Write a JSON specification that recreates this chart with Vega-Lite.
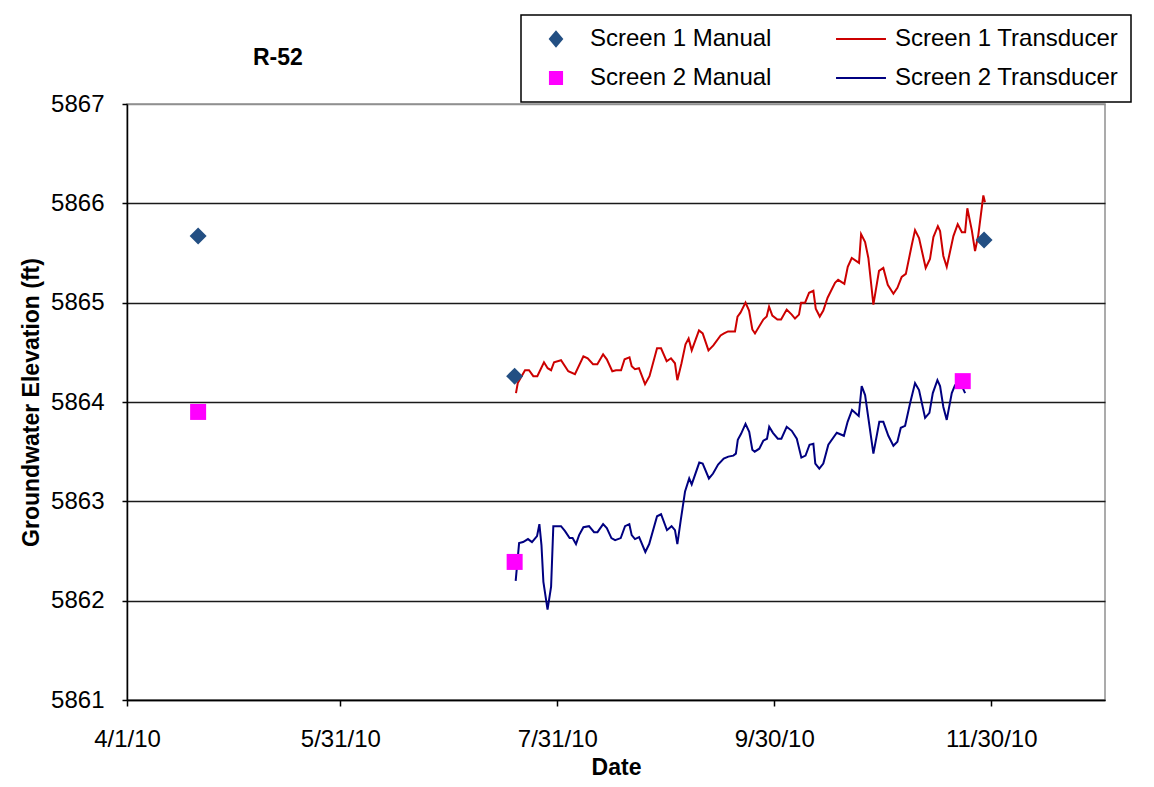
{
  "$schema": "https://vega.github.io/schema/vega-lite/v6.json",
  "width": 978,
  "height": 596,
  "autosize": {"type": "none"},
  "padding": {"left": 127, "top": 104, "right": 49, "bottom": 87},
  "background": "white",
  "config": {
    "font": "Liberation Sans",
    "view": {"stroke": "#909090", "strokeWidth": 1.5}
  },
  "title": {"text": "R-52", "anchor": "start", "frame": "group", "dx": 126, "dy": 56, "fontSize": 23, "fontWeight": "bold", "offset": 0, "color": "#000", "font": "Liberation Sans"},
  "datasets": {
    "lines": [
      {"date": "2010-07-19T09:00", "value": 5864.09, "series": "Screen 1 Transducer"},
      {"date": "2010-07-19T21:00", "value": 5864.19, "series": "Screen 1 Transducer"},
      {"date": "2010-07-21T22:00", "value": 5864.32, "series": "Screen 1 Transducer"},
      {"date": "2010-07-23T01:00", "value": 5864.32, "series": "Screen 1 Transducer"},
      {"date": "2010-07-24T06:00", "value": 5864.26, "series": "Screen 1 Transducer"},
      {"date": "2010-07-25T09:00", "value": 5864.26, "series": "Screen 1 Transducer"},
      {"date": "2010-07-27T06:00", "value": 5864.40, "series": "Screen 1 Transducer"},
      {"date": "2010-07-28T07:00", "value": 5864.34, "series": "Screen 1 Transducer"},
      {"date": "2010-07-29T06:00", "value": 5864.32, "series": "Screen 1 Transducer"},
      {"date": "2010-07-30T02:00", "value": 5864.40, "series": "Screen 1 Transducer"},
      {"date": "2010-08-01T01:00", "value": 5864.42, "series": "Screen 1 Transducer"},
      {"date": "2010-08-03T02:00", "value": 5864.31, "series": "Screen 1 Transducer"},
      {"date": "2010-08-04T23:00", "value": 5864.28, "series": "Screen 1 Transducer"},
      {"date": "2010-08-07T08:00", "value": 5864.46, "series": "Screen 1 Transducer"},
      {"date": "2010-08-08T13:00", "value": 5864.44, "series": "Screen 1 Transducer"},
      {"date": "2010-08-10T01:00", "value": 5864.38, "series": "Screen 1 Transducer"},
      {"date": "2010-08-11T06:00", "value": 5864.38, "series": "Screen 1 Transducer"},
      {"date": "2010-08-12T21:00", "value": 5864.48, "series": "Screen 1 Transducer"},
      {"date": "2010-08-13T22:00", "value": 5864.43, "series": "Screen 1 Transducer"},
      {"date": "2010-08-15T11:00", "value": 5864.31, "series": "Screen 1 Transducer"},
      {"date": "2010-08-16T12:00", "value": 5864.32, "series": "Screen 1 Transducer"},
      {"date": "2010-08-17T22:00", "value": 5864.32, "series": "Screen 1 Transducer"},
      {"date": "2010-08-18T22:00", "value": 5864.43, "series": "Screen 1 Transducer"},
      {"date": "2010-08-20T07:00", "value": 5864.45, "series": "Screen 1 Transducer"},
      {"date": "2010-08-20T22:00", "value": 5864.36, "series": "Screen 1 Transducer"},
      {"date": "2010-08-21T20:00", "value": 5864.33, "series": "Screen 1 Transducer"},
      {"date": "2010-08-22T23:00", "value": 5864.34, "series": "Screen 1 Transducer"},
      {"date": "2010-08-24T16:00", "value": 5864.18, "series": "Screen 1 Transducer"},
      {"date": "2010-08-25T22:00", "value": 5864.26, "series": "Screen 1 Transducer"},
      {"date": "2010-08-28T01:00", "value": 5864.54, "series": "Screen 1 Transducer"},
      {"date": "2010-08-29T04:00", "value": 5864.54, "series": "Screen 1 Transducer"},
      {"date": "2010-08-30T18:00", "value": 5864.41, "series": "Screen 1 Transducer"},
      {"date": "2010-08-31T23:00", "value": 5864.44, "series": "Screen 1 Transducer"},
      {"date": "2010-09-02T02:00", "value": 5864.39, "series": "Screen 1 Transducer"},
      {"date": "2010-09-02T18:00", "value": 5864.22, "series": "Screen 1 Transducer"},
      {"date": "2010-09-03T22:00", "value": 5864.39, "series": "Screen 1 Transducer"},
      {"date": "2010-09-05T01:00", "value": 5864.58, "series": "Screen 1 Transducer"},
      {"date": "2010-09-05T22:00", "value": 5864.64, "series": "Screen 1 Transducer"},
      {"date": "2010-09-06T19:00", "value": 5864.52, "series": "Screen 1 Transducer"},
      {"date": "2010-09-08T20:00", "value": 5864.72, "series": "Screen 1 Transducer"},
      {"date": "2010-09-09T21:00", "value": 5864.69, "series": "Screen 1 Transducer"},
      {"date": "2010-09-11T12:00", "value": 5864.52, "series": "Screen 1 Transducer"},
      {"date": "2010-09-12T21:00", "value": 5864.57, "series": "Screen 1 Transducer"},
      {"date": "2010-09-14T22:00", "value": 5864.67, "series": "Screen 1 Transducer"},
      {"date": "2010-09-15T21:00", "value": 5864.69, "series": "Screen 1 Transducer"},
      {"date": "2010-09-17T00:00", "value": 5864.71, "series": "Screen 1 Transducer"},
      {"date": "2010-09-18T23:00", "value": 5864.71, "series": "Screen 1 Transducer"},
      {"date": "2010-09-19T16:00", "value": 5864.86, "series": "Screen 1 Transducer"},
      {"date": "2010-09-20T12:00", "value": 5864.90, "series": "Screen 1 Transducer"},
      {"date": "2010-09-21T22:00", "value": 5865.00, "series": "Screen 1 Transducer"},
      {"date": "2010-09-22T22:00", "value": 5864.92, "series": "Screen 1 Transducer"},
      {"date": "2010-09-23T20:00", "value": 5864.73, "series": "Screen 1 Transducer"},
      {"date": "2010-09-24T14:00", "value": 5864.69, "series": "Screen 1 Transducer"},
      {"date": "2010-09-26T22:00", "value": 5864.83, "series": "Screen 1 Transducer"},
      {"date": "2010-09-27T21:00", "value": 5864.86, "series": "Screen 1 Transducer"},
      {"date": "2010-09-28T13:00", "value": 5864.96, "series": "Screen 1 Transducer"},
      {"date": "2010-09-29T11:00", "value": 5864.87, "series": "Screen 1 Transducer"},
      {"date": "2010-09-30T21:00", "value": 5864.83, "series": "Screen 1 Transducer"},
      {"date": "2010-10-01T22:00", "value": 5864.83, "series": "Screen 1 Transducer"},
      {"date": "2010-10-03T12:00", "value": 5864.93, "series": "Screen 1 Transducer"},
      {"date": "2010-10-04T22:00", "value": 5864.88, "series": "Screen 1 Transducer"},
      {"date": "2010-10-05T20:00", "value": 5864.84, "series": "Screen 1 Transducer"},
      {"date": "2010-10-06T23:00", "value": 5864.88, "series": "Screen 1 Transducer"},
      {"date": "2010-10-07T13:00", "value": 5865.00, "series": "Screen 1 Transducer"},
      {"date": "2010-10-08T16:00", "value": 5865.00, "series": "Screen 1 Transducer"},
      {"date": "2010-10-09T19:00", "value": 5865.10, "series": "Screen 1 Transducer"},
      {"date": "2010-10-11T00:00", "value": 5865.12, "series": "Screen 1 Transducer"},
      {"date": "2010-10-11T16:00", "value": 5864.94, "series": "Screen 1 Transducer"},
      {"date": "2010-10-12T19:00", "value": 5864.86, "series": "Screen 1 Transducer"},
      {"date": "2010-10-13T19:00", "value": 5864.92, "series": "Screen 1 Transducer"},
      {"date": "2010-10-15T00:00", "value": 5865.05, "series": "Screen 1 Transducer"},
      {"date": "2010-10-17T02:00", "value": 5865.20, "series": "Screen 1 Transducer"},
      {"date": "2010-10-17T23:00", "value": 5865.23, "series": "Screen 1 Transducer"},
      {"date": "2010-10-19T17:00", "value": 5865.19, "series": "Screen 1 Transducer"},
      {"date": "2010-10-20T16:00", "value": 5865.36, "series": "Screen 1 Transducer"},
      {"date": "2010-10-21T19:00", "value": 5865.45, "series": "Screen 1 Transducer"},
      {"date": "2010-10-23T20:00", "value": 5865.40, "series": "Screen 1 Transducer"},
      {"date": "2010-10-24T10:00", "value": 5865.69, "series": "Screen 1 Transducer"},
      {"date": "2010-10-25T13:00", "value": 5865.61, "series": "Screen 1 Transducer"},
      {"date": "2010-10-26T11:00", "value": 5865.45, "series": "Screen 1 Transducer"},
      {"date": "2010-10-27T21:00", "value": 5864.98, "series": "Screen 1 Transducer"},
      {"date": "2010-10-29T11:00", "value": 5865.32, "series": "Screen 1 Transducer"},
      {"date": "2010-10-30T16:00", "value": 5865.35, "series": "Screen 1 Transducer"},
      {"date": "2010-10-31T22:00", "value": 5865.18, "series": "Screen 1 Transducer"},
      {"date": "2010-11-02T12:00", "value": 5865.09, "series": "Screen 1 Transducer"},
      {"date": "2010-11-03T15:00", "value": 5865.15, "series": "Screen 1 Transducer"},
      {"date": "2010-11-04T20:00", "value": 5865.26, "series": "Screen 1 Transducer"},
      {"date": "2010-11-06T00:00", "value": 5865.29, "series": "Screen 1 Transducer"},
      {"date": "2010-11-07T16:00", "value": 5865.58, "series": "Screen 1 Transducer"},
      {"date": "2010-11-08T14:00", "value": 5865.73, "series": "Screen 1 Transducer"},
      {"date": "2010-11-09T17:00", "value": 5865.65, "series": "Screen 1 Transducer"},
      {"date": "2010-11-11T14:00", "value": 5865.35, "series": "Screen 1 Transducer"},
      {"date": "2010-11-12T19:00", "value": 5865.44, "series": "Screen 1 Transducer"},
      {"date": "2010-11-13T18:00", "value": 5865.66, "series": "Screen 1 Transducer"},
      {"date": "2010-11-15T00:00", "value": 5865.77, "series": "Screen 1 Transducer"},
      {"date": "2010-11-15T15:00", "value": 5865.72, "series": "Screen 1 Transducer"},
      {"date": "2010-11-16T13:00", "value": 5865.47, "series": "Screen 1 Transducer"},
      {"date": "2010-11-17T12:00", "value": 5865.36, "series": "Screen 1 Transducer"},
      {"date": "2010-11-19T09:00", "value": 5865.67, "series": "Screen 1 Transducer"},
      {"date": "2010-11-20T14:00", "value": 5865.79, "series": "Screen 1 Transducer"},
      {"date": "2010-11-21T18:00", "value": 5865.71, "series": "Screen 1 Transducer"},
      {"date": "2010-11-22T16:00", "value": 5865.71, "series": "Screen 1 Transducer"},
      {"date": "2010-11-23T07:00", "value": 5865.95, "series": "Screen 1 Transducer"},
      {"date": "2010-11-24T13:00", "value": 5865.73, "series": "Screen 1 Transducer"},
      {"date": "2010-11-25T11:00", "value": 5865.52, "series": "Screen 1 Transducer"},
      {"date": "2010-11-26T09:00", "value": 5865.68, "series": "Screen 1 Transducer"},
      {"date": "2010-11-27T19:00", "value": 5866.08, "series": "Screen 1 Transducer"},
      {"date": "2010-11-28T06:00", "value": 5866.01, "series": "Screen 1 Transducer"},
      {"date": "2010-07-19T07:00", "value": 5862.20, "series": "Screen 2 Transducer"},
      {"date": "2010-07-20T06:00", "value": 5862.58, "series": "Screen 2 Transducer"},
      {"date": "2010-07-21T09:00", "value": 5862.59, "series": "Screen 2 Transducer"},
      {"date": "2010-07-22T18:00", "value": 5862.62, "series": "Screen 2 Transducer"},
      {"date": "2010-07-23T21:00", "value": 5862.59, "series": "Screen 2 Transducer"},
      {"date": "2010-07-25T07:00", "value": 5862.65, "series": "Screen 2 Transducer"},
      {"date": "2010-07-25T23:00", "value": 5862.77, "series": "Screen 2 Transducer"},
      {"date": "2010-07-26T13:00", "value": 5862.56, "series": "Screen 2 Transducer"},
      {"date": "2010-07-27T02:00", "value": 5862.19, "series": "Screen 2 Transducer"},
      {"date": "2010-07-28T06:00", "value": 5861.91, "series": "Screen 2 Transducer"},
      {"date": "2010-07-29T06:00", "value": 5862.14, "series": "Screen 2 Transducer"},
      {"date": "2010-07-29T21:00", "value": 5862.75, "series": "Screen 2 Transducer"},
      {"date": "2010-08-01T01:00", "value": 5862.75, "series": "Screen 2 Transducer"},
      {"date": "2010-08-02T04:00", "value": 5862.70, "series": "Screen 2 Transducer"},
      {"date": "2010-08-03T11:00", "value": 5862.63, "series": "Screen 2 Transducer"},
      {"date": "2010-08-04T07:00", "value": 5862.63, "series": "Screen 2 Transducer"},
      {"date": "2010-08-05T06:00", "value": 5862.57, "series": "Screen 2 Transducer"},
      {"date": "2010-08-06T03:00", "value": 5862.66, "series": "Screen 2 Transducer"},
      {"date": "2010-08-07T08:00", "value": 5862.74, "series": "Screen 2 Transducer"},
      {"date": "2010-08-08T22:00", "value": 5862.75, "series": "Screen 2 Transducer"},
      {"date": "2010-08-10T08:00", "value": 5862.69, "series": "Screen 2 Transducer"},
      {"date": "2010-08-11T07:00", "value": 5862.69, "series": "Screen 2 Transducer"},
      {"date": "2010-08-12T21:00", "value": 5862.77, "series": "Screen 2 Transducer"},
      {"date": "2010-08-13T22:00", "value": 5862.73, "series": "Screen 2 Transducer"},
      {"date": "2010-08-15T05:00", "value": 5862.63, "series": "Screen 2 Transducer"},
      {"date": "2010-08-16T06:00", "value": 5862.61, "series": "Screen 2 Transducer"},
      {"date": "2010-08-17T20:00", "value": 5862.63, "series": "Screen 2 Transducer"},
      {"date": "2010-08-19T01:00", "value": 5862.75, "series": "Screen 2 Transducer"},
      {"date": "2010-08-20T06:00", "value": 5862.77, "series": "Screen 2 Transducer"},
      {"date": "2010-08-20T22:00", "value": 5862.66, "series": "Screen 2 Transducer"},
      {"date": "2010-08-21T20:00", "value": 5862.62, "series": "Screen 2 Transducer"},
      {"date": "2010-08-23T00:00", "value": 5862.64, "series": "Screen 2 Transducer"},
      {"date": "2010-08-24T18:00", "value": 5862.49, "series": "Screen 2 Transducer"},
      {"date": "2010-08-25T20:00", "value": 5862.57, "series": "Screen 2 Transducer"},
      {"date": "2010-08-28T01:00", "value": 5862.85, "series": "Screen 2 Transducer"},
      {"date": "2010-08-29T04:00", "value": 5862.87, "series": "Screen 2 Transducer"},
      {"date": "2010-08-30T20:00", "value": 5862.71, "series": "Screen 2 Transducer"},
      {"date": "2010-09-01T03:00", "value": 5862.75, "series": "Screen 2 Transducer"},
      {"date": "2010-09-02T02:00", "value": 5862.71, "series": "Screen 2 Transducer"},
      {"date": "2010-09-02T18:00", "value": 5862.57, "series": "Screen 2 Transducer"},
      {"date": "2010-09-03T17:00", "value": 5862.81, "series": "Screen 2 Transducer"},
      {"date": "2010-09-04T22:00", "value": 5863.10, "series": "Screen 2 Transducer"},
      {"date": "2010-09-06T02:00", "value": 5863.23, "series": "Screen 2 Transducer"},
      {"date": "2010-09-06T19:00", "value": 5863.17, "series": "Screen 2 Transducer"},
      {"date": "2010-09-08T22:00", "value": 5863.39, "series": "Screen 2 Transducer"},
      {"date": "2010-09-09T21:00", "value": 5863.38, "series": "Screen 2 Transducer"},
      {"date": "2010-09-11T15:00", "value": 5863.23, "series": "Screen 2 Transducer"},
      {"date": "2010-09-12T19:00", "value": 5863.28, "series": "Screen 2 Transducer"},
      {"date": "2010-09-14T05:00", "value": 5863.37, "series": "Screen 2 Transducer"},
      {"date": "2010-09-15T19:00", "value": 5863.43, "series": "Screen 2 Transducer"},
      {"date": "2010-09-17T02:00", "value": 5863.45, "series": "Screen 2 Transducer"},
      {"date": "2010-09-18T12:00", "value": 5863.46, "series": "Screen 2 Transducer"},
      {"date": "2010-09-19T05:00", "value": 5863.48, "series": "Screen 2 Transducer"},
      {"date": "2010-09-19T18:00", "value": 5863.62, "series": "Screen 2 Transducer"},
      {"date": "2010-09-20T16:00", "value": 5863.68, "series": "Screen 2 Transducer"},
      {"date": "2010-09-21T22:00", "value": 5863.78, "series": "Screen 2 Transducer"},
      {"date": "2010-09-22T23:00", "value": 5863.70, "series": "Screen 2 Transducer"},
      {"date": "2010-09-23T20:00", "value": 5863.52, "series": "Screen 2 Transducer"},
      {"date": "2010-09-24T12:00", "value": 5863.50, "series": "Screen 2 Transducer"},
      {"date": "2010-09-25T19:00", "value": 5863.53, "series": "Screen 2 Transducer"},
      {"date": "2010-09-26T22:00", "value": 5863.61, "series": "Screen 2 Transducer"},
      {"date": "2010-09-27T23:00", "value": 5863.63, "series": "Screen 2 Transducer"},
      {"date": "2010-09-28T14:00", "value": 5863.75, "series": "Screen 2 Transducer"},
      {"date": "2010-09-29T15:00", "value": 5863.69, "series": "Screen 2 Transducer"},
      {"date": "2010-10-01T00:00", "value": 5863.63, "series": "Screen 2 Transducer"},
      {"date": "2010-10-02T00:00", "value": 5863.63, "series": "Screen 2 Transducer"},
      {"date": "2010-10-03T12:00", "value": 5863.75, "series": "Screen 2 Transducer"},
      {"date": "2010-10-04T22:00", "value": 5863.71, "series": "Screen 2 Transducer"},
      {"date": "2010-10-06T08:00", "value": 5863.63, "series": "Screen 2 Transducer"},
      {"date": "2010-10-07T15:00", "value": 5863.44, "series": "Screen 2 Transducer"},
      {"date": "2010-10-08T19:00", "value": 5863.46, "series": "Screen 2 Transducer"},
      {"date": "2010-10-09T22:00", "value": 5863.57, "series": "Screen 2 Transducer"},
      {"date": "2010-10-11T00:00", "value": 5863.58, "series": "Screen 2 Transducer"},
      {"date": "2010-10-11T13:00", "value": 5863.38, "series": "Screen 2 Transducer"},
      {"date": "2010-10-12T16:00", "value": 5863.33, "series": "Screen 2 Transducer"},
      {"date": "2010-10-13T19:00", "value": 5863.38, "series": "Screen 2 Transducer"},
      {"date": "2010-10-15T05:00", "value": 5863.57, "series": "Screen 2 Transducer"},
      {"date": "2010-10-17T14:00", "value": 5863.69, "series": "Screen 2 Transducer"},
      {"date": "2010-10-19T14:00", "value": 5863.66, "series": "Screen 2 Transducer"},
      {"date": "2010-10-20T15:00", "value": 5863.80, "series": "Screen 2 Transducer"},
      {"date": "2010-10-21T21:00", "value": 5863.92, "series": "Screen 2 Transducer"},
      {"date": "2010-10-23T18:00", "value": 5863.86, "series": "Screen 2 Transducer"},
      {"date": "2010-10-24T14:00", "value": 5864.16, "series": "Screen 2 Transducer"},
      {"date": "2010-10-25T13:00", "value": 5864.07, "series": "Screen 2 Transducer"},
      {"date": "2010-10-27T21:00", "value": 5863.48, "series": "Screen 2 Transducer"},
      {"date": "2010-10-29T13:00", "value": 5863.80, "series": "Screen 2 Transducer"},
      {"date": "2010-10-30T16:00", "value": 5863.80, "series": "Screen 2 Transducer"},
      {"date": "2010-11-01T02:00", "value": 5863.66, "series": "Screen 2 Transducer"},
      {"date": "2010-11-02T12:00", "value": 5863.56, "series": "Screen 2 Transducer"},
      {"date": "2010-11-03T15:00", "value": 5863.60, "series": "Screen 2 Transducer"},
      {"date": "2010-11-04T14:00", "value": 5863.74, "series": "Screen 2 Transducer"},
      {"date": "2010-11-05T19:00", "value": 5863.76, "series": "Screen 2 Transducer"},
      {"date": "2010-11-07T05:00", "value": 5863.99, "series": "Screen 2 Transducer"},
      {"date": "2010-11-08T14:00", "value": 5864.19, "series": "Screen 2 Transducer"},
      {"date": "2010-11-09T17:00", "value": 5864.12, "series": "Screen 2 Transducer"},
      {"date": "2010-11-11T10:00", "value": 5863.84, "series": "Screen 2 Transducer"},
      {"date": "2010-11-12T15:00", "value": 5863.89, "series": "Screen 2 Transducer"},
      {"date": "2010-11-13T14:00", "value": 5864.09, "series": "Screen 2 Transducer"},
      {"date": "2010-11-14T21:00", "value": 5864.22, "series": "Screen 2 Transducer"},
      {"date": "2010-11-15T15:00", "value": 5864.16, "series": "Screen 2 Transducer"},
      {"date": "2010-11-16T13:00", "value": 5863.95, "series": "Screen 2 Transducer"},
      {"date": "2010-11-17T12:00", "value": 5863.82, "series": "Screen 2 Transducer"},
      {"date": "2010-11-18T22:00", "value": 5864.09, "series": "Screen 2 Transducer"},
      {"date": "2010-11-19T20:00", "value": 5864.17, "series": "Screen 2 Transducer"},
      {"date": "2010-11-21T06:00", "value": 5864.20, "series": "Screen 2 Transducer"},
      {"date": "2010-11-22T16:00", "value": 5864.09, "series": "Screen 2 Transducer"}
    ],
    "manual": [
      {"date": "2010-04-21T00:00", "value": 5865.67, "series": "Screen 1 Manual"},
      {"date": "2010-07-19T00:00", "value": 5864.26, "series": "Screen 1 Manual"},
      {"date": "2010-11-28T00:00", "value": 5865.63, "series": "Screen 1 Manual"},
      {"date": "2010-04-21T00:00", "value": 5863.90, "series": "Screen 2 Manual"},
      {"date": "2010-07-19T00:00", "value": 5862.39, "series": "Screen 2 Manual"},
      {"date": "2010-11-22T00:00", "value": 5864.21, "series": "Screen 2 Manual"}
    ]
  },
  "encoding": {
    "x": {
      "field": "date", "type": "temporal",
      "scale": {"domain": [{"year": 2010, "month": 4, "date": 1}, {"year": 2011, "month": 1, "date": 1}]},
      "axis": {
        "title": "Date", "titleFontSize": 23, "titleFontWeight": "bold", "titleColor": "#000", "titlePadding": 5,
        "values": [{"year": 2010, "month": 4, "date": 1}, {"year": 2010, "month": 5, "date": 31}, {"year": 2010, "month": 7, "date": 31}, {"year": 2010, "month": 9, "date": 30}, {"year": 2010, "month": 11, "date": 30}],
        "format": "%-m/%-d/%y", "grid": false, "labelFontSize": 24, "labelColor": "#000", "labelPadding": 21, "labelFlush": false, "labelOverlap": false,
        "domainColor": "#000", "domainWidth": 1.5, "tickColor": "#000", "tickSize": 6, "tickWidth": 1.5
      }
    },
    "y": {
      "field": "value", "type": "quantitative",
      "scale": {"domain": [5861, 5867], "nice": false, "zero": false},
      "axis": {
        "title": "Groundwater  Elevation (ft)", "titleFontSize": 23, "titleFontWeight": "bold", "titleColor": "#000", "titlePadding": 7,
        "values": [5861, 5862, 5863, 5864, 5865, 5866, 5867], "format": "d",
        "labelFontSize": 24, "labelColor": "#000", "labelPadding": 18,
        "grid": true, "gridWidth": 1.6,
        "gridColor": {"condition": {"test": "datum.value === 5867", "value": "#909090"}, "value": "#1a1a1a"},
        "domainColor": "#000", "domainWidth": 1.5, "tickColor": "#000", "tickSize": 5, "tickWidth": 1.5
      }
    }
  },
  "layer": [
    {
      "data": {"name": "lines"},
      "mark": {"type": "line", "strokeWidth": 2},
      "encoding": {
        "detail": {"field": "series"},
        "color": {
          "field": "series", "type": "nominal",
          "scale": {"domain": ["Screen 1 Manual", "Screen 2 Manual", "Screen 1 Transducer", "Screen 2 Transducer"], "range": ["#234F83", "#FF00FF", "#CC0000", "#000080"]},
          "legend": {
            "title": null, "orient": "none", "legendX": 394, "legendY": -89, "columns": 2,
            "strokeColor": "#000", "fillColor": "#fff", "padding": 12,
            "labelFontSize": 24, "labelColor": "#000", "labelFont": "Liberation Sans", "labelOffset": 22, "labelLimit": 400,
            "symbolSize": 484, "symbolStrokeWidth": 2, "rowPadding": 15, "columnPadding": 60, "symbolOffset": 11,
            "encode": {
              "symbols": {"update": {
                "shape": {"signal": "datum.value === 'Screen 1 Manual' ? 'M-0.55,0L0,-0.65L0.55,0L0,0.65Z' : (datum.value === 'Screen 2 Manual' ? 'M-0.55,-0.55L0.55,-0.55L0.55,0.55L-0.55,0.55Z' : 'M-2.27,0L2.27,0')"},
                "fill": {"scale": "color", "field": "value"},
                "stroke": {"scale": "color", "field": "value"},
                "opacity": {"value": 1}
              }},
              "legend": {"update": {"strokeWidth": {"value": 1.5}}}
            }
          }
        }
      }
    },
    {
      "data": {"name": "manual"},
      "mark": {"type": "point", "filled": true, "opacity": 1},
      "encoding": {
        "color": {
          "field": "series", "type": "nominal",
          "scale": {"domain": ["Screen 1 Manual", "Screen 2 Manual", "Screen 1 Transducer", "Screen 2 Transducer"], "range": ["#234F83", "#FF00FF", "#CC0000", "#000080"]}
        },
        "shape": {"field": "series", "type": "nominal", "scale": {"domain": ["Screen 1 Manual", "Screen 2 Manual"], "range": ["diamond", "square"]}, "legend": null},
        "size": {"field": "series", "type": "nominal", "scale": {"domain": ["Screen 1 Manual", "Screen 2 Manual"], "range": [289, 256]}, "legend": null}
      }
    }
  ]
}
